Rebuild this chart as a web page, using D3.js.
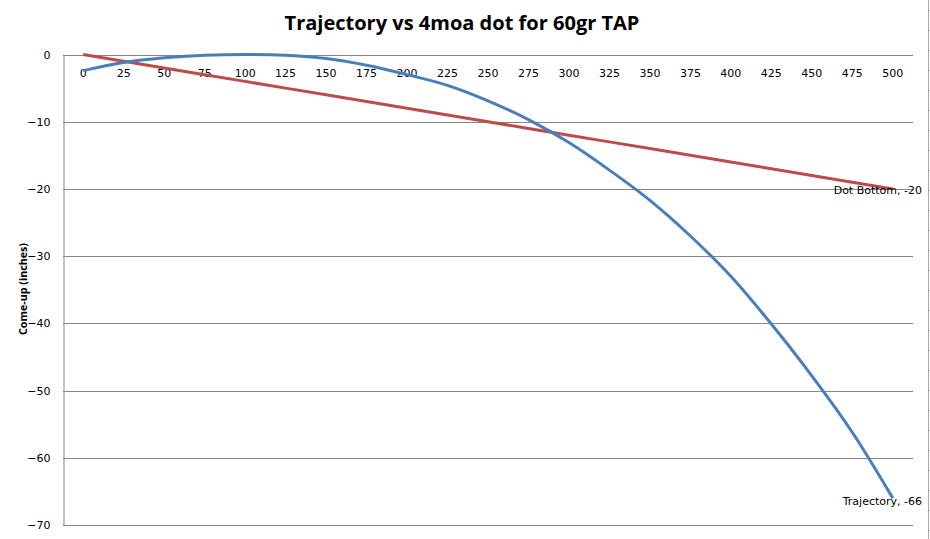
<!DOCTYPE html>
<html><head><meta charset="utf-8">
<script src="https://cdn.jsdelivr.net/npm/d3@7"></script>
<style>html,body{margin:0;padding:0;background:#fff;}</style>
</head><body>
<script>
const categories = ["0","25","50","75","100","125","150","175","200","225","250","275","300","325","350","375","400","425","450","475","500"];
const trajectory = [-2.4,-1.2,-0.5,-0.1,0,-0.1,-0.6,-1.6,-3.0,-4.6,-6.9,-9.7,-13.1,-17.2,-21.7,-27.0,-33.0,-40.1,-47.8,-56.2,-66];
const dotBottom = [0,-1,-2,-3,-4,-5,-6,-7,-8,-9,-10,-11,-12,-13,-14,-15,-16,-17,-18,-19,-20];
const yTicks = [0,-10,-20,-30,-40,-50,-60,-70];
const title = "Trajectory vs 4moa dot for 60gr TAP";
const yTitle = "Come-up (inches)";

const W = 930, H = 539;
const L = 63, R = 913, T = 54.5, B = 525;
const svg = d3.select("body").append("svg").attr("width", W).attr("height", H);

const x = d3.scaleBand().domain(categories).range([L, R]).padding(0);
const y = d3.scaleLinear().domain([-70, 0]).range([B, T]);
const cx = d => x(d) + x.bandwidth() / 2;

// ruler-like line at right edge
svg.append("line").attr("x1", 928.5).attr("x2", 928.5).attr("y1", 0).attr("y2", H)
  .attr("stroke", "#a8a8a8").attr("stroke-width", 1);
svg.selectAll(".rt").data(d3.range(10, H, 20)).enter().append("line")
  .attr("x1", 929).attr("x2", 930).attr("y1", d => d + 0.5).attr("y2", d => d + 0.5)
  .attr("stroke", "#c8c8c8");

// gridlines
svg.append("g").selectAll("line").data(yTicks).enter().append("line")
  .attr("x1", L).attr("x2", R)
  .attr("y1", d => Math.round(y(d)) + 0.5).attr("y2", d => Math.round(y(d)) + 0.5)
  .attr("stroke", "#868686").attr("stroke-width", 1);

// y axis
const yAxis = d3.axisLeft(y).tickValues(yTicks).tickSize(0).tickPadding(13).tickFormat(d3.format("d"));
const gy = svg.append("g").attr("transform", `translate(${L + 0.5},0)`).call(yAxis);
gy.select(".domain").attr("stroke", "#868686");
gy.selectAll("text").attr("font-family", "DejaVu Sans, Verdana, sans-serif").attr("font-size", 11).attr("fill", "#000");

// x axis at 0 with labels below
const xAxis = d3.axisBottom(x).tickSize(0).tickPadding(13);
const gx = svg.append("g").attr("transform", `translate(0,${Math.round(y(0)) + 0.5})`).call(xAxis);
gx.select(".domain").remove();
gx.selectAll("text").attr("font-family", "DejaVu Sans, Verdana, sans-serif").attr("font-size", 11).attr("fill", "#000").attr("dy", "0.32em").attr("y", 18);

// lines
const lineSmooth = d3.line().x((d, i) => cx(categories[i])).y(d => y(d)).curve(d3.curveMonotoneX);
const lineStraight = d3.line().x((d, i) => cx(categories[i])).y(d => y(d));
svg.append("path").datum(dotBottom).attr("d", lineStraight)
  .attr("fill", "none").attr("stroke", "#BE4B48").attr("stroke-width", 3).attr("stroke-linejoin", "round");
svg.append("path").datum(trajectory).attr("d", lineSmooth)
  .attr("fill", "none").attr("stroke", "#4A7EBB").attr("stroke-width", 3).attr("stroke-linejoin", "round");

// data labels
const last = categories.length - 1;
svg.append("text").attr("x", 922).attr("y", y(dotBottom[last]) + 2).attr("dy", "0.32em")
  .attr("text-anchor", "end").attr("font-family", "DejaVu Sans, Verdana, sans-serif").attr("font-size", 11)
  .text("Dot Bottom,  " + dotBottom[last]);
svg.append("text").attr("x", 922).attr("y", y(trajectory[last]) + 3).attr("dy", "0.32em")
  .attr("text-anchor", "end").attr("font-family", "DejaVu Sans, Verdana, sans-serif").attr("font-size", 11)
  .text("Trajectory, " + trajectory[last]);

// title
const t = svg.append("text").attr("x", 462).attr("y", 30).attr("text-anchor", "middle")
  .attr("font-family", "'Open Sans', 'Liberation Sans', sans-serif").attr("font-weight", "bold")
  .attr("font-size", 20).attr("fill", "#000").text(title);
const tw = t.node().getComputedTextLength();
t.attr("font-size", 20 * 355 / tw);

// y title
const yt = svg.append("text").attr("transform", `translate(27,289) rotate(-90)`).attr("text-anchor", "middle")
  .attr("font-family", "'Open Sans', 'Liberation Sans', sans-serif").attr("font-weight", "bold")
  .attr("font-size", 11).attr("fill", "#000").text(yTitle);
const yw = yt.node().getComputedTextLength();
yt.attr("font-size", 11 * 92 / yw);
</script>
</body></html>
